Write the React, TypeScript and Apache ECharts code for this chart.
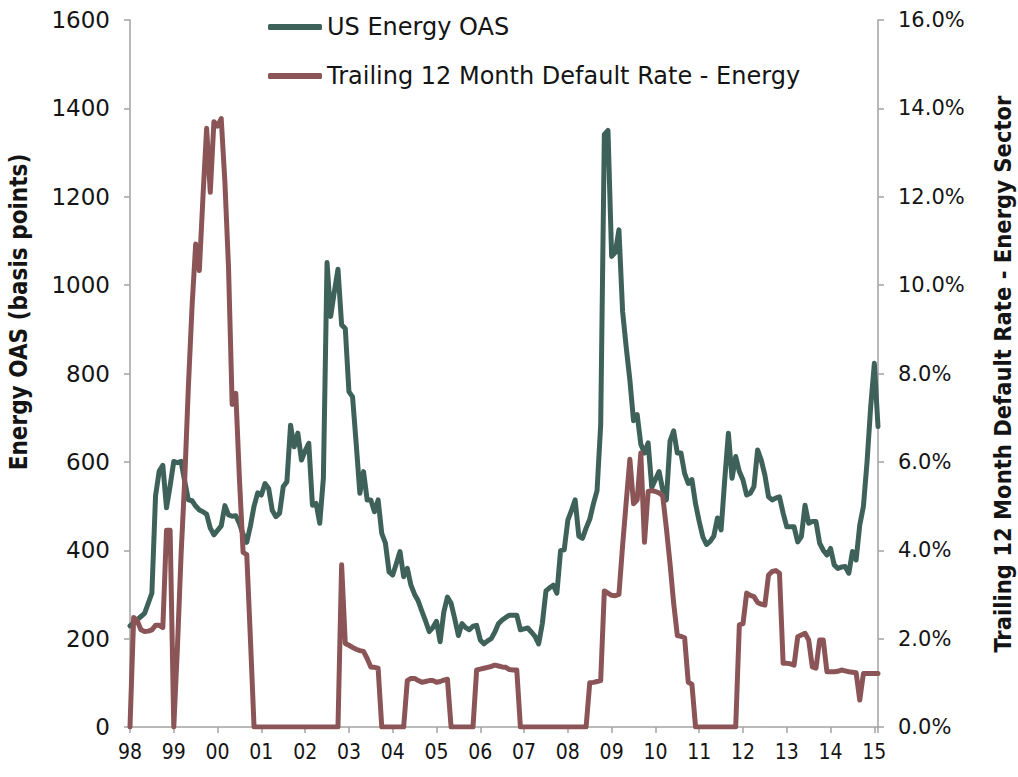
import React, { useEffect, useRef } from "react";
import * as echarts from "echarts";

// Monthly observations starting January 1998
const START_YEAR = 1998;

const oasSeriesName = "US Energy OAS";
const defaultSeriesName = "Trailing 12 Month Default Rate - Energy";

// US Energy OAS (basis points), monthly
const oas: number[] = [
  229, 236, 243, 250, 257, 280, 303, 523, 579, 592, 496, 546, // 1998
  601, 598, 601, 556, 514, 512, 500, 491, 487, 482, 450, 435, // 1999
  445, 455, 501, 480, 477, 478, 460, 436, 418, 455, 500, 530, // 2000
  525, 551, 540, 490, 476, 484, 544, 555, 683, 634, 665, 604, // 2001
  625, 642, 502, 506, 461, 563, 1051, 929, 985, 1036, 910, 902, // 2002
  759, 747, 640, 529, 578, 514, 514, 487, 514, 438, 416, 351, // 2003
  344, 370, 397, 340, 359, 321, 300, 285, 262, 240, 216, 225, // 2004
  239, 193, 260, 294, 280, 245, 207, 234, 225, 220, 228, 230, // 2005
  197, 188, 195, 200, 215, 234, 242, 248, 253, 253, 253, 220, // 2006
  222, 224, 215, 205, 188, 234, 308, 315, 321, 303, 399, 401, // 2007
  468, 490, 514, 432, 427, 450, 470, 505, 535, 684, 1341, 1350, // 2008
  1065, 1074, 1125, 941, 859, 785, 693, 707, 640, 620, 643, 542, // 2009
  560, 578, 537, 514, 647, 670, 620, 620, 574, 551, 560, 505, // 2010
  465, 430, 413, 420, 432, 473, 446, 560, 665, 563, 612, 578, // 2011
  559, 525, 529, 544, 627, 604, 570, 521, 514, 518, 521, 484, // 2012
  453, 453, 453, 419, 431, 502, 461, 465, 465, 416, 400, 389, // 2013
  404, 367, 359, 362, 363, 348, 397, 378, 457, 499, 600, 725, // 2014
  823, 680, // 2015
];

// Trailing 12 month default rate - energy (%), monthly
const defaultRate: number[] = [
  0, 2.48, 2.4, 2.2, 2.16, 2.17, 2.2, 2.3, 2.3, 2.25, 4.45, 4.45, // 1998
  0, 1.8, 3.9, 5.6, 7.7, 9.5, 10.93, 10.33, 12.0, 13.55, 12.1, 13.7, // 1999
  13.6, 13.77, 12.35, 10.4, 7.3, 7.55, 5.6, 3.95, 3.9, 2.0, 0, 0, // 2000
  0, 0, 0, 0, 0, 0, 0, 0, 0, 0, 0, 0, // 2001
  0, 0, 0, 0, 0, 0, 0, 0, 0, 0, 3.67, 1.89, // 2002
  1.85, 1.8, 1.76, 1.73, 1.71, 1.55, 1.36, 1.35, 1.33, 0, 0, 0, // 2003
  0, 0, 0, 0, 1.05, 1.1, 1.1, 1.05, 1.01, 1.03, 1.05, 1.05, // 2004
  1.01, 1.03, 1.06, 1.08, 0, 0, 0, 0, 0, 0, 0, 1.29, // 2005
  1.31, 1.33, 1.35, 1.37, 1.4, 1.38, 1.36, 1.35, 1.3, 1.29, 1.29, 0, // 2006
  0, 0, 0, 0, 0, 0, 0, 0, 0, 0, 0, 0, // 2007
  0, 0, 0, 0, 0, 0, 1.0, 1.01, 1.03, 1.05, 3.08, 3.03, // 2008
  2.98, 2.97, 3.0, 4.1, 5.1, 6.06, 5.05, 5.14, 6.2, 4.18, 5.33, 5.35, // 2009
  5.33, 5.3, 5.23, 4.5, 3.7, 2.8, 2.07, 2.05, 2.02, 1.01, 0.97, 0, // 2010
  0, 0, 0, 0, 0, 0, 0, 0, 0, 0, 0, 2.31, // 2011
  2.34, 3.03, 2.98, 2.95, 2.82, 2.78, 2.76, 3.44, 3.52, 3.54, 3.48, 1.44, // 2012
  1.44, 1.43, 1.4, 2.04, 2.08, 2.12, 1.97, 1.36, 1.33, 1.97, 1.97, 1.25, // 2013
  1.25, 1.25, 1.26, 1.29, 1.27, 1.25, 1.24, 1.23, 0.61, 1.21, 1.21, 1.21, // 2014
  1.21, 1.21, // 2015
];

const leftTitle = "Energy OAS (basis points)";
const rightTitle = "Trailing 12 Month Default Rate - Energy Sector";

const GREEN = "#3e6259";
const RED = "#8b5558";
const AXIS = "#a3a3a3";
const TEXT = "#141414";
const FONT = "'DejaVu Sans', sans-serif";
const FONT_C = "'DejaVu Sans Condensed', 'Liberation Sans Narrow', 'DejaVu Sans', sans-serif";

const toPoints = (arr: number[]) => arr.map((v, i) => [START_YEAR + i / 12, v]);

export default function App() {
  const ref = useRef<HTMLDivElement>(null);
  useEffect(() => {
    if (!ref.current) return;
    const chart = echarts.init(ref.current, null, { renderer: "svg" });
    const lastX = START_YEAR + (oas.length - 1) / 12;
    const axisLine = { show: true, onZero: false, lineStyle: { color: AXIS, width: 1.5 } };
    const axisTick = { show: true, inside: false, length: 6, lineStyle: { color: AXIS, width: 1.5 } };
    chart.setOption({
      animation: false,
      backgroundColor: "#ffffff",
      grid: { left: 130, right: 140, top: 20, bottom: 50, containLabel: false },
      legend: {
        orient: "vertical",
        left: 268,
        top: 15,
        padding: 0,
        itemWidth: 54,
        itemHeight: 6,
        itemGap: 25,
        icon: "roundRect",
        textStyle: { fontSize: 24, fontFamily: FONT, color: TEXT, lineHeight: 24 },
        data: [oasSeriesName, defaultSeriesName],
      },
      xAxis: {
        type: "value",
        min: START_YEAR,
        max: lastX,
        interval: 1,
        axisLine,
        axisTick,
        splitLine: { show: false },
        axisLabel: {
          margin: 14,
          fontSize: 21,
          fontFamily: FONT_C,
          color: TEXT,
          formatter: (v: number) =>
            Math.abs(v - Math.round(v)) < 1e-6 ? String(Math.round(v) % 100).padStart(2, "0") : "",
        },
      },
      yAxis: [
        {
          type: "value",
          min: 0,
          max: 1600,
          interval: 200,
          position: "left",
          axisLine,
          axisTick,
          splitLine: { show: false },
          axisLabel: {
            margin: 20,
            fontSize: 23,
            fontFamily: FONT,
            color: TEXT,
            formatter: (v: number) => String(v),
          },
        },
        {
          type: "value",
          min: 0,
          max: 16,
          interval: 2,
          position: "right",
          axisLine,
          axisTick,
          splitLine: { show: false },
          axisLabel: {
            margin: 20,
            fontSize: 21,
            fontFamily: FONT,
            color: TEXT,
            formatter: (v: number) => v.toFixed(1) + "%",
          },
        },
      ],
      graphic: [
        {
          type: "text",
          x: 19,
          y: 312,
          rotation: Math.PI / 2,
          style: {
            text: leftTitle,
            fontSize: 24,
            fontFamily: FONT_C,
            fontWeight: "bold",
            fill: TEXT,
            align: "center",
            verticalAlign: "middle",
          },
        },
        {
          type: "text",
          x: 1003,
          y: 374,
          rotation: Math.PI / 2,
          style: {
            text: rightTitle,
            fontSize: 23.5,
            fontFamily: FONT_C,
            fontWeight: "bold",
            fill: TEXT,
            align: "center",
            verticalAlign: "middle",
          },
        },
      ],
      series: [
        {
          name: oasSeriesName,
          type: "line",
          yAxisIndex: 0,
          data: toPoints(oas),
          showSymbol: false,
          symbol: "none",
          lineStyle: { color: GREEN, width: 5, join: "round", cap: "round" },
          itemStyle: { color: GREEN },
        },
        {
          name: defaultSeriesName,
          type: "line",
          yAxisIndex: 1,
          data: toPoints(defaultRate),
          showSymbol: false,
          symbol: "none",
          lineStyle: { color: RED, width: 5, join: "round", cap: "round" },
          itemStyle: { color: RED },
        },
      ],
    });
    return () => chart.dispose();
  }, []);
  return (
    <div
      ref={ref}
      style={{ position: "fixed", left: 0, top: 0, width: 1018, height: 777, background: "#fff" }}
    />
  );
}
